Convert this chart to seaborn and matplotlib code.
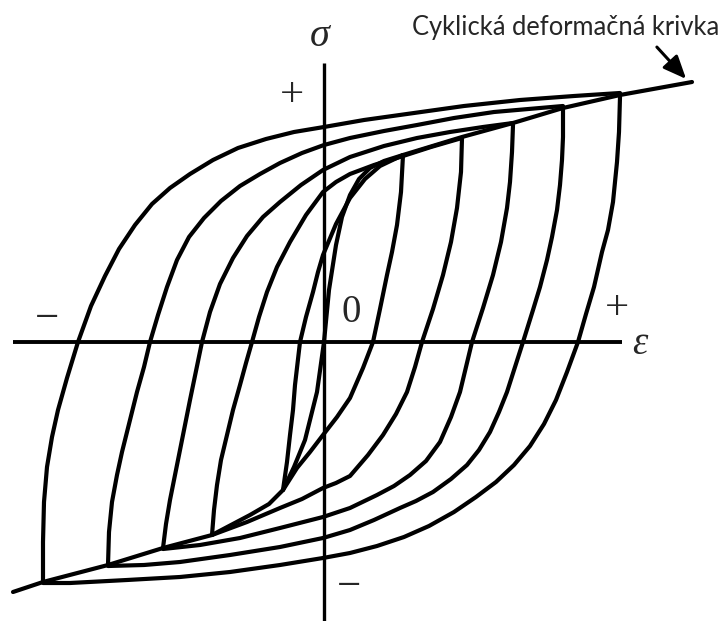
"""
Cyclic stress-strain curve with nested hysteresis loops
"""

import numpy as np
import pandas as pd
import matplotlib
matplotlib.use("Agg")
import matplotlib.pyplot as plt
import seaborn as sns

# === Data (strain / stress in arbitrary units) ===
# loop A (outermost)
loopA_up_eps = [-281, -281, -280, -277, -272, -266, -257, -246, -233, -219, -205, -189, -172, -154, -134, -111, -86, -58, -30, 0, 40, 90, 140, 196, 250, 296]
loopA_up_sig = [-240, -200, -160, -125, -95, -68, -36, 0, 36, 66, 93, 117, 138, 154, 168, 182, 194, 203, 210, 215, 222, 229, 236, 242, 246, 249]
loopA_dn_eps = [296, 295, 293, 289, 284, 278, 270, 262, 254, 243, 232, 220, 206, 190, 172, 152, 130, 105, 80, 53, 26, -1, -44, -94, -144, -197, -254, -281]
loopA_dn_sig = [245, 210, 180, 140, 112, 90, 55, 28, 0, -30, -58, -82, -104, -123, -140, -155, -170, -184, -195, -204, -211, -216, -223, -230, -235, -238, -241, -241]

# loop B
loopB_up_eps = [-216, -215, -212, -207, -202, -197, -187, -180, -174, -166, -157, -147, -135, -120, -103, -84, -64, -44, -22, 0, 26, 60, 93, 130, 170, 239]
loopB_up_sig = [-223, -190, -160, -133, -110, -90, -50, -25, 0, 27, 55, 82, 105, 124, 141, 156, 168, 179, 189, 197, 204, 211, 217, 224, 230, 236]
loopB_dn_eps = [239, 239, 238, 236, 233, 228, 223, 216, 209, 199, 191, 183, 175, 166, 155, 143, 127, 109, 92, 76, 50, 26, -1, -44, -94, -144, -180, -216]
loopB_dn_sig = [234, 205, 182, 157, 132, 105, 82, 55, 32, 0, -25, -50, -70, -90, -108, -123, -137, -150, -159, -166, -178, -188, -196, -205, -213, -220, -223, -224]

# loop C
loopC_up_eps = [-161, -158, -154, -149, -144, -139, -134, -128, -122, -114, -104, -91, -77, -61, -44, -23, -1, 26, 60, 93, 126, 159, 189]
loopC_up_sig = [-206, -182, -158, -133, -108, -83, -58, -29, 0, 30, 58, 84, 106, 125, 140, 157, 172, 185, 196, 204, 210, 215, 219]
loopC_dn_eps = [189, 188, 186, 183, 177, 169, 159, 148, 142, 136, 127, 116, 102, 86, 70, 53, 26, -1, -44, -84, -124, -161]
loopC_dn_sig = [217, 190, 160, 134, 100, 67, 34, 0, -25, -50, -75, -100, -119, -133, -144, -153, -166, -175, -186, -196, -203, -207]

# loop D
loopD_up_eps = [-112, -110, -107, -103, -97, -91, -84, -78, -72, -65, -57, -47, -34, -18, -1, 12, 26, 50, 76, 107, 138]
loopD_up_sig = [-193, -168, -143, -118, -93, -68, -43, -21, 0, 25, 50, 75, 100, 127, 150, 160, 168, 177, 185, 195, 204]
loopD_dn_eps = [138, 137, 133, 127, 119, 109, 98, 91, 83, 72, 59, 44, 26, 12, -1, -22, -44, -77, -112]
loopD_dn_sig = [204, 170, 134, 100, 67, 33, 0, -25, -50, -72, -93, -113, -134, -141, -146, -157, -166, -180, -193]

# loop E (innermost)
loopE_up_eps = [-41, -37, -34, -31, -29, -24, -18, -11, -6, -1, 12, 26, 41, 56, 79]
loopE_up_sig = [-148, -120, -93, -68, -43, 0, 25, 50, 70, 87, 118, 144, 163, 176, 187]
loopE_dn_eps = [79, 77, 73, 68, 63, 56, 49, 39, 26, 13, -1, -14, -27, -41]
loopE_dn_sig = [187, 150, 117, 90, 67, 33, 0, -26, -56, -75, -93, -110, -126, -148]

# cyclic stress-strain curve through the loop tips
cyclic_eps = [-311, -281, -216, -161, -112, -74, -55, -41, -30, -19, -7, 0, 5, 12, 18, 26, 35, 46, 60, 79, 138, 189, 239, 296, 368]
cyclic_sig = [-250, -240, -223, -206, -193, -173, -162, -148, -125, -98, -50, 0, 52, 97, 125, 147, 163, 174, 181, 187, 205, 219, 234, 247, 260]

branches = {
    "A_up": (loopA_up_eps, loopA_up_sig), "A_dn": (loopA_dn_eps, loopA_dn_sig),
    "B_up": (loopB_up_eps, loopB_up_sig), "B_dn": (loopB_dn_eps, loopB_dn_sig),
    "C_up": (loopC_up_eps, loopC_up_sig), "C_dn": (loopC_dn_eps, loopC_dn_sig),
    "D_up": (loopD_up_eps, loopD_up_sig), "D_dn": (loopD_dn_eps, loopD_dn_sig),
    "E_up": (loopE_up_eps, loopE_up_sig), "E_dn": (loopE_dn_eps, loopE_dn_sig),
    "cyclic": (cyclic_eps, cyclic_sig),
}

rows = []
for name, (ex, sy) in branches.items():
    for i, (e, s) in enumerate(zip(ex, sy)):
        rows.append({"branch": name, "order": i, "eps": e, "sig": s})
df = pd.DataFrame(rows)

# === Layout ===
X_RANGE = (-324, 394)
Y_RANGE = (-279, 342)
EPS_AXIS = (-311, 298)
SIG_AXIS = (-279, 279)

sns.set_style("white")
fig = plt.figure(figsize=(7.18, 6.21), dpi=100)
ax = fig.add_axes([0, 0, 1, 1])

sns.lineplot(
    data=df, x="eps", y="sig", units="branch", estimator=None, sort=False,
    color="black", linewidth=3.0, ax=ax,
)
for line in ax.lines:
    line.set_solid_joinstyle("round")
    line.set_solid_capstyle("round")

# axes
ax.hlines(0, *EPS_AXIS, color="black", linewidth=2.8)
ax.vlines(0, *SIG_AXIS, color="black", linewidth=2.4)

ax.set_xlim(*X_RANGE)
ax.set_ylim(*Y_RANGE)
ax.axis("off")

serif = "Liberation Serif"
ax.text(-4, 305, "σ", family=serif, style="italic", fontsize=29, ha="center", va="center")
ax.text(316, -2, "ε", family=serif, style="italic", fontsize=28, ha="center", va="center")
ax.text(27, 30, "0", family=serif, fontsize=28, ha="center", va="center")
ax.text(-32, 246, "+", family=serif, fontsize=31, ha="center", va="center")
ax.text(293, 33, "+", family=serif, fontsize=31, ha="center", va="center")
ax.text(-277, 22, "−", family=serif, fontsize=31, ha="center", va="center")
ax.text(25, -246, "−", family=serif, fontsize=31, ha="center", va="center")

# label with arrow pointing at the end of the cyclic curve
ax.text(88, 307, "Cyklická deformačná krivka", family="Lato", fontsize=18.4,
        ha="left", va="baseline")
ax.annotate(
    "", xy=(364, 261), xytext=(331, 297),
    arrowprops=dict(arrowstyle="-|>,head_length=0.7,head_width=0.3",
                    color="black", lw=2.2, mutation_scale=20),
)

fig.savefig("out.png", dpi=100, facecolor="white")
plt.close(fig)
